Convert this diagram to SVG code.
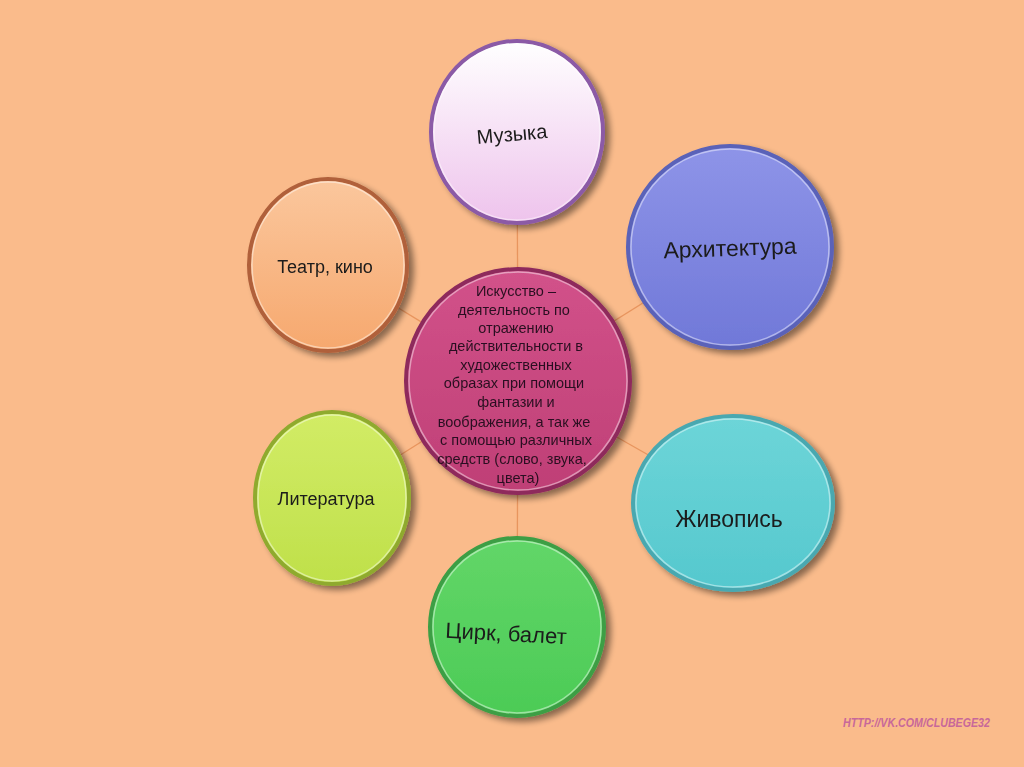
<svg xmlns="http://www.w3.org/2000/svg" width="1024" height="767" viewBox="0 0 1024 767">
<style>
.conn{stroke:#E8955E;stroke-width:1.3;fill:none}
.lbl{font-family:"Liberation Sans","Open Sans",sans-serif;font-size:17px;fill:#1a1a1a;text-anchor:middle}
.ctr{font-family:"Liberation Sans","Open Sans",sans-serif;font-size:14.5px;fill:#2a1020;text-anchor:middle}
.wm{font-family:"Liberation Sans",sans-serif;font-size:12px;font-style:italic;font-weight:bold;fill:#C8689A}
.rim{fill:none;stroke:#FFFFFF;stroke-opacity:0.45;stroke-width:1.5}
</style>
<defs>
<filter id="sh" x="-20%" y="-20%" width="150%" height="150%">
<feGaussianBlur in="SourceAlpha" stdDeviation="3"/>
<feOffset dx="5" dy="4" result="b"/>
<feComponentTransfer><feFuncA type="linear" slope="0.45"/></feComponentTransfer>
<feMerge><feMergeNode/><feMergeNode in="SourceGraphic"/></feMerge>
</filter>
<linearGradient id="gMus" x1="0" y1="0" x2="0" y2="1"><stop offset="0" stop-color="#FFFFFF"/><stop offset="1" stop-color="#EEC3EC"/></linearGradient>
<linearGradient id="gArch" x1="0" y1="0" x2="0" y2="1"><stop offset="0" stop-color="#8E94E8"/><stop offset="1" stop-color="#7078D8"/></linearGradient>
<linearGradient id="gTeat" x1="0" y1="0" x2="0" y2="1"><stop offset="0" stop-color="#FBC79D"/><stop offset="1" stop-color="#F6A86E"/></linearGradient>
<linearGradient id="gLit" x1="0" y1="0" x2="0" y2="1"><stop offset="0" stop-color="#D2EC66"/><stop offset="1" stop-color="#BFE04A"/></linearGradient>
<linearGradient id="gCirk" x1="0" y1="0" x2="0" y2="1"><stop offset="0" stop-color="#62D668"/><stop offset="1" stop-color="#4CCB56"/></linearGradient>
<linearGradient id="gZhiv" x1="0" y1="0" x2="0" y2="1"><stop offset="0" stop-color="#6DD5D8"/><stop offset="1" stop-color="#55C8CE"/></linearGradient>
<linearGradient id="gCen" x1="0" y1="0" x2="0" y2="1"><stop offset="0" stop-color="#D2528A"/><stop offset="1" stop-color="#BF3F76"/></linearGradient>
</defs>
<rect width="1024" height="767" fill="#FABB8B"/>
<g id="connectors">
<line class="conn" x1="518" y1="381" x2="517" y2="132"/>
<line class="conn" x1="518" y1="381" x2="731" y2="248"/>
<line class="conn" x1="518" y1="381" x2="328" y2="265"/>
<line class="conn" x1="518" y1="381" x2="332" y2="498"/>
<line class="conn" x1="518" y1="381" x2="517" y2="627"/>
<line class="conn" x1="518" y1="381" x2="733" y2="503"/>
</g>
<g id="muzyka" filter="url(#sh)">
<ellipse cx="517" cy="132" rx="86" ry="91" fill="url(#gMus)" stroke="#8B5AA6" stroke-width="4"/>
<ellipse class="rim" cx="517" cy="132" rx="83" ry="88"/>
<text class="lbl" x="512" y="141" transform="rotate(-5 512 134)" style="font-size:20px">Музыка</text>
</g>
<g id="arhitektura" filter="url(#sh)">
<ellipse cx="730" cy="247" rx="102" ry="101" fill="url(#gArch)" stroke="#5A62B8" stroke-width="4"/>
<ellipse class="rim" cx="730" cy="247" rx="99" ry="98"/>
<text class="lbl" x="730" y="256" transform="rotate(-2 730 248)" style="font-size:23px">Архитектура</text>
</g>
<g id="teatr" filter="url(#sh)">
<ellipse cx="328" cy="265" rx="79" ry="86" fill="url(#gTeat)" stroke="#B0603A" stroke-width="4"/>
<ellipse class="rim" cx="328" cy="265" rx="76" ry="83"/>
<text class="lbl" x="325" y="273" style="font-size:18px">Театр, кино</text>
</g>
<g id="literatura" filter="url(#sh)">
<ellipse cx="332" cy="498" rx="77" ry="86" fill="url(#gLit)" stroke="#8FAA2E" stroke-width="4"/>
<ellipse class="rim" cx="332" cy="498" rx="74" ry="83"/>
<text class="lbl" x="326" y="505" style="font-size:18px">Литература</text>
</g>
<g id="cirk" filter="url(#sh)">
<ellipse cx="517" cy="627" rx="87" ry="89" fill="url(#gCirk)" stroke="#3C9E44" stroke-width="4"/>
<ellipse class="rim" cx="517" cy="627" rx="84" ry="86"/>
<text class="lbl" x="506" y="641" transform="rotate(3 506 633)" style="font-size:22px">Цирк, балет</text>
</g>
<g id="zhivopis" filter="url(#sh)">
<ellipse cx="733" cy="503" rx="100" ry="87" fill="url(#gZhiv)" stroke="#4AA8B0" stroke-width="4"/>
<ellipse class="rim" cx="733" cy="503" rx="97" ry="84"/>
<text class="lbl" x="729" y="527" style="font-size:23px">Живопись</text>
</g>
<g id="center" filter="url(#sh)">
<ellipse cx="518" cy="381" rx="112" ry="112" fill="url(#gCen)" stroke="#8E2A5C" stroke-width="4"/>
<ellipse class="rim" cx="518" cy="381" rx="109" ry="109"/>
<text class="ctr">
<tspan x="518" y="296">Искусство –</tspan>
<tspan x="516" y="315">деятельность по</tspan>
<tspan x="518" y="333">отражению</tspan>
<tspan x="518" y="351">действительности в</tspan>
<tspan x="518" y="370">художественных</tspan>
<tspan x="516" y="388">образах при помощи</tspan>
<tspan x="518" y="407">фантазии и</tspan>
<tspan x="516" y="427">воображения, а так же</tspan>
<tspan x="518" y="445">с помощью различных</tspan>
<tspan x="514" y="464">средств  (слово, звука,</tspan>
<tspan x="518" y="483">цвета)</tspan>
</text>
</g>
<text class="wm" x="843" y="727" textLength="147" lengthAdjust="spacingAndGlyphs">HTTP://VK.COM/CLUBEGE32</text>
</svg>
